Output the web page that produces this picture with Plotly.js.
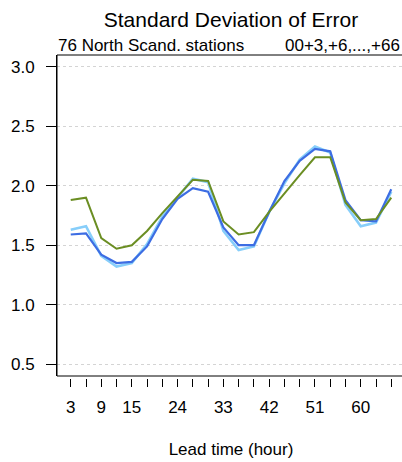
<!DOCTYPE html>
<html>
<head>
<meta charset="utf-8">
<script src="https://cdn.plot.ly/plotly-3.0.1.min.js"></script>
<style>
html,body{margin:0;padding:0;overflow:hidden;background:#fff;}
#chart{width:406px;height:462px;}
</style>
</head>
<body>
<div id="chart"></div>
<script>
// Lead times (hours)
const leadTimes = [3,6,9,12,15,18,21,24,27,30,33,36,39,42,45,48,51,54,57,60,63,66];
// Series values (std. dev. of error)
const lightBlueSeries = [1.63,1.66,1.41,1.32,1.35,1.51,1.74,1.90,2.06,2.03,1.62,1.46,1.49,1.78,2.02,2.22,2.33,2.28,1.84,1.66,1.69,1.95];
const darkBlueSeries  = [1.59,1.60,1.42,1.35,1.36,1.49,1.72,1.89,1.98,1.95,1.65,1.50,1.50,1.78,2.04,2.21,2.31,2.29,1.88,1.71,1.70,1.97];
const greenSeries     = [1.88,1.90,1.56,1.47,1.50,1.62,1.77,1.91,2.05,2.04,1.70,1.59,1.61,1.78,1.94,2.09,2.24,2.24,1.86,1.71,1.72,1.90];
// Tick labels
const xTickVals = leadTimes;
const xLabelled = [3,9,15,24,33,42,51,60];
const xTickText = xTickVals.map(v => xLabelled.includes(v) ? String(v) : '');
const yTickVals = [0.5,1.0,1.5,2.0,2.5,3.0];
const yTickText = ['0.5','1.0','1.5','2.0','2.5','3.0'];

const FONT = 'Liberation Sans, Arial, Helvetica, sans-serif';

const traces = [
  {x: leadTimes, y: lightBlueSeries, type:'scatter', mode:'lines', line:{color:'#87cefa', width:2.6}, hoverinfo:'skip'},
  {x: leadTimes, y: darkBlueSeries, type:'scatter', mode:'lines', line:{color:'#3d6de3', width:2.2}, hoverinfo:'skip'},
  {x: leadTimes, y: greenSeries, type:'scatter', mode:'lines', line:{color:'#6b8e23', width:2}, hoverinfo:'skip'}
];

const layout = {
  width: 406, height: 462,
  margin: {l:57, r:1, t:55, b:84, pad:0},
  paper_bgcolor:'#fff', plot_bgcolor:'#fff',
  showlegend:false,
  font:{family:FONT, size:17, color:'#000'},
  title:{text:'Standard Deviation of Error', font:{family:FONT, size:21, color:'#000'},
         x:0.5, xref:'paper', xanchor:'center', y:1-20/462, yref:'container', yanchor:'middle'},
  xaxis:{
    range:[0.3,68.7], anchor:'free', position:0,
    showline:false, showgrid:false, zeroline:false,
    ticks:'outside', ticklen:8, tickwidth:1, tickcolor:'#000',
    tickmode:'array', tickvals:xTickVals, ticktext:xTickText,
    tickfont:{family:FONT, size:17, color:'#000'},
    ticklabelstandoff:6,
    title:{text:'Lead time (hour)', font:{family:FONT, size:17, color:'#000'}, standoff:26}
  },
  yaxis:{
    range:[0.4,3.1], domain:[2/323,1],
    showline:true, linecolor:'#000', linewidth:1,
    showgrid:true, gridcolor:'#d4d4d4', griddash:'dot', gridwidth:1,
    zeroline:false,
    ticks:'outside', ticklen:10, tickwidth:1, tickcolor:'#000',
    tickmode:'array', tickvals:yTickVals, ticktext:yTickText,
    tickfont:{family:FONT, size:17, color:'#000'},
    ticklabelstandoff:8
  },
  shapes:[
    {type:'rect', xref:'paper', yref:'y domain', x0:0, x1:1, y0:0, y1:1, line:{color:'#000', width:1}, layer:'above'}
  ],
  annotations:[
    {text:'76 North Scand. stations', xref:'paper', yref:'paper', x:0, y:1+10/323, xanchor:'left', yanchor:'middle', showarrow:false, font:{family:FONT, size:17, color:'#000'}, borderpad:0},
    {text:'00+3,+6,...,+66', xref:'paper', yref:'paper', x:0.988, y:1+10/323, xanchor:'right', yanchor:'middle', showarrow:false, font:{family:FONT, size:17, color:'#000'}, borderpad:0}
  ]
};

Plotly.newPlot('chart', traces, layout, {staticPlot:true, displayModeBar:false});
</script>
</body>
</html>
